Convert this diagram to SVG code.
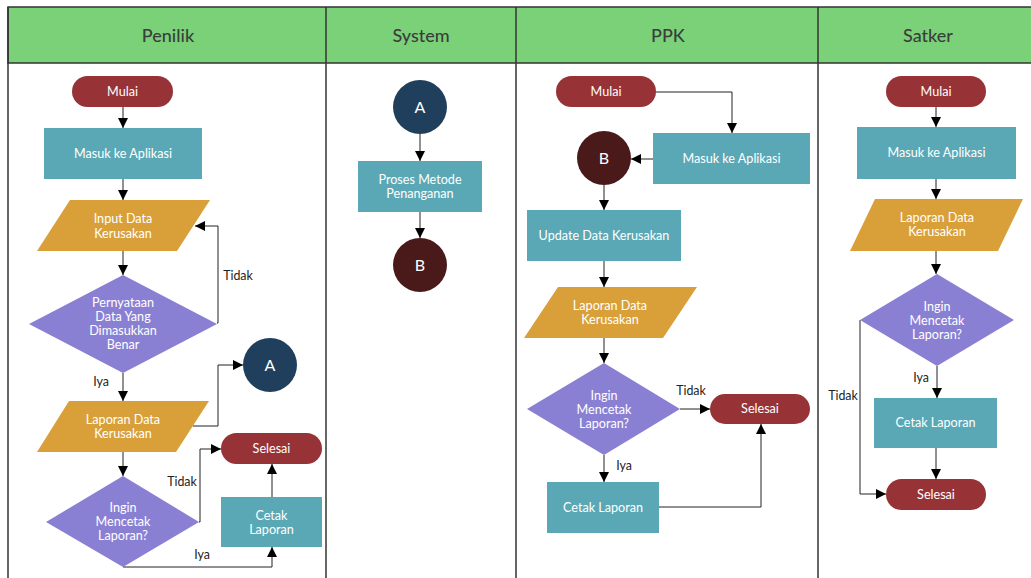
<svg xmlns="http://www.w3.org/2000/svg" width="1031" height="578" viewBox="0 0 1031 578">
<style>
.hdr{fill:#7bd178;stroke:#333;stroke-width:1.5}
.lane{stroke:#333;stroke-width:1.5;fill:none}
.ht{font-family:Lato,"Noto Sans",sans-serif;font-size:18px;font-weight:500;fill:#3a3d3d;text-anchor:middle}
.term{fill:#973336}
.proc{fill:#5aa8b5}
.io{fill:#d9a03a}
.dec{fill:#8a80d3}
.ca{fill:#1f3f5d}
.cb{fill:#4a1a1b}
.t{font-family:Lato,"Noto Sans",sans-serif;font-size:12.6px;fill:#fff;text-anchor:middle}
.c{font-family:Lato,"Noto Sans",sans-serif;font-size:16px;fill:#fff;text-anchor:middle}
.lb{font-family:Lato,"Noto Sans",sans-serif;font-size:12.4px;fill:#222;text-anchor:middle}
.e{fill:none;stroke:#222;stroke-width:1;marker-end:url(#ah)}
</style>
<defs>
<marker id="ah" viewBox="0 0 10 10" refX="10" refY="5" markerWidth="10" markerHeight="10" markerUnits="userSpaceOnUse" orient="auto">
<path d="M0,0 L10,5 L0,10 z" fill="#000"/>
</marker>
</defs>
<rect width="1031" height="578" fill="#fff"/>
<g id="lanes">
<rect class="hdr" x="8" y="7" width="1030" height="56"/>
<line class="lane" x1="8" y1="7" x2="8" y2="578"/>
<line class="lane" x1="326" y1="7" x2="326" y2="578"/>
<line class="lane" x1="516" y1="7" x2="516" y2="578"/>
<line class="lane" x1="818" y1="7" x2="818" y2="578"/>
<text class="ht" x="168" y="42">Penilik</text>
<text class="ht" x="421" y="42">System</text>
<text class="ht" x="668" y="42">PPK</text>
<text class="ht" x="928" y="42">Satker</text>
</g>
<g id="connectors">
<path class="e" d="M123,107 V128"/>
<path class="e" d="M123,179 V200"/>
<path class="e" d="M123,251 V275"/>
<path class="e" d="M217,323 H218 V226 H195"/>
<path class="e" d="M123,373 V401"/>
<path class="e" d="M193,426 H218 V365 H243"/>
<path class="e" d="M123,452 V476"/>
<path class="e" d="M199,522 H200 V449 H221"/>
<path class="e" d="M123,567 H272 V547"/>
<path class="e" d="M272,497 V464"/>
<path class="e" d="M420,134 V161"/>
<path class="e" d="M420,212 V238"/>
<path class="e" d="M656,92 H732 V133"/>
<path class="e" d="M653,159 H631"/>
<path class="e" d="M604,185 V210"/>
<path class="e" d="M604,261 V287"/>
<path class="e" d="M604,338 V363"/>
<path class="e" d="M680,409 H710"/>
<path class="e" d="M604,455 V482"/>
<path class="e" d="M659,507 H761 V424"/>
<path class="e" d="M936,107 V127"/>
<path class="e" d="M936,179 V199"/>
<path class="e" d="M936,251 V274"/>
<path class="e" d="M937,366 V398"/>
<path class="e" d="M860,320 V494 H886"/>
<path class="e" d="M936,448 V479"/>
<text class="lb" x="238" y="280">Tidak</text>
<text class="lb" x="101" y="386">Iya</text>
<text class="lb" x="182" y="486">Tidak</text>
<text class="lb" x="202" y="559">Iya</text>
<text class="lb" x="691" y="395">Tidak</text>
<text class="lb" x="624" y="470">Iya</text>
<text class="lb" x="843" y="400">Tidak</text>
<text class="lb" x="921" y="382">Iya</text>
</g>
<g id="p-mulai"><rect class="term" x="72" y="76" width="101" height="31" rx="15.5"/><text class="t" x="122.5" y="96">Mulai</text></g>
<g id="p-masuk"><rect class="proc" x="44" y="128" width="158" height="51"/><text class="t" x="123" y="158">Masuk ke Aplikasi</text></g>
<g id="p-input"><polygon class="io" points="70,200 210,200 177,251 37,251"/><text class="t" x="123" y="223">Input Data</text><text class="t" x="123" y="238">Kerusakan</text></g>
<g id="p-cek"><polygon class="dec" points="123,275 217,324 123,373 29,324"/><text class="t" x="123" y="307">Pernyataan</text><text class="t" x="123" y="321">Data Yang</text><text class="t" x="123" y="335">Dimasukkan</text><text class="t" x="123" y="349">Benar</text></g>
<g id="p-laporan"><polygon class="io" points="69,401 209,401 176,452 37,452"/><text class="t" x="123" y="424">Laporan Data</text><text class="t" x="123" y="438">Kerusakan</text></g>
<g id="p-a"><circle class="ca" cx="270" cy="365" r="27"/><text class="c" x="270" y="371">A</text></g>
<g id="p-cetakq"><polygon class="dec" points="123,476 199,522 123,567 46,522"/><text class="t" x="123" y="512">Ingin</text><text class="t" x="123" y="526">Mencetak</text><text class="t" x="123" y="540">Laporan?</text></g>
<g id="p-selesai"><rect class="term" x="221" y="433" width="101" height="31" rx="15.5"/><text class="t" x="271.5" y="453">Selesai</text></g>
<g id="p-cetak"><rect class="proc" x="221" y="497" width="101" height="50"/><text class="t" x="271.5" y="520">Cetak</text><text class="t" x="271.5" y="534">Laporan</text></g>
<g id="s-a"><circle class="ca" cx="420" cy="107" r="27"/><text class="c" x="420" y="113">A</text></g>
<g id="s-proses"><rect class="proc" x="358" y="161" width="124" height="51"/><text class="t" x="420" y="184">Proses Metode</text><text class="t" x="420" y="198">Penanganan</text></g>
<g id="s-b"><circle class="cb" cx="420" cy="265" r="27"/><text class="c" x="420" y="271">B</text></g>
<g id="k-mulai"><rect class="term" x="556" y="76" width="100" height="31" rx="15.5"/><text class="t" x="606" y="96">Mulai</text></g>
<g id="k-masuk"><rect class="proc" x="653" y="133" width="157" height="51"/><text class="t" x="731.5" y="163">Masuk ke Aplikasi</text></g>
<g id="k-b"><circle class="cb" cx="604" cy="158" r="27"/><text class="c" x="604" y="164">B</text></g>
<g id="k-update"><rect class="proc" x="527" y="210" width="154" height="51"/><text class="t" x="604" y="240">Update Data Kerusakan</text></g>
<g id="k-laporan"><polygon class="io" points="558,287 697,287 663,338 524,338"/><text class="t" x="610" y="310">Laporan Data</text><text class="t" x="610" y="324">Kerusakan</text></g>
<g id="k-cetakq"><polygon class="dec" points="604,363 680,409 604,455 527,409"/><text class="t" x="604" y="400">Ingin</text><text class="t" x="604" y="414">Mencetak</text><text class="t" x="604" y="428">Laporan?</text></g>
<g id="k-selesai"><rect class="term" x="710" y="394" width="100" height="30" rx="15"/><text class="t" x="760" y="413">Selesai</text></g>
<g id="k-cetak"><rect class="proc" x="547" y="482" width="112" height="51"/><text class="t" x="603" y="512">Cetak Laporan</text></g>
<g id="t-mulai"><rect class="term" x="886" y="76" width="100" height="31" rx="15.5"/><text class="t" x="936" y="96">Mulai</text></g>
<g id="t-masuk"><rect class="proc" x="857" y="127" width="159" height="52"/><text class="t" x="936.5" y="157">Masuk ke Aplikasi</text></g>
<g id="t-laporan"><polygon class="io" points="875,199 1023,199 998,251 850,251"/><text class="t" x="937" y="222">Laporan Data</text><text class="t" x="937" y="236">Kerusakan</text></g>
<g id="t-cetakq"><polygon class="dec" points="937,274 1014,320 937,366 860,320"/><text class="t" x="937" y="311">Ingin</text><text class="t" x="937" y="325">Mencetak</text><text class="t" x="937" y="339">Laporan?</text></g>
<g id="t-cetak"><rect class="proc" x="874" y="398" width="123" height="50"/><text class="t" x="935.5" y="427">Cetak Laporan</text></g>
<g id="t-selesai"><rect class="term" x="886" y="479" width="100" height="31" rx="15.5"/><text class="t" x="936" y="499">Selesai</text></g>
</svg>
